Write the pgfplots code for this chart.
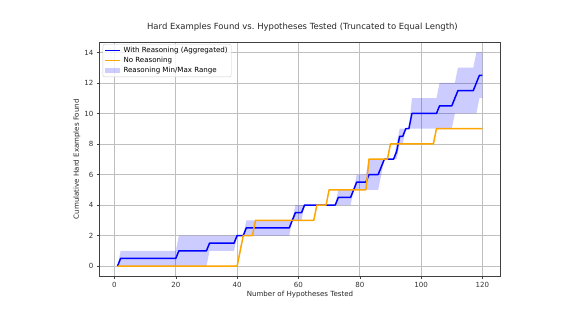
\documentclass[border=0pt]{standalone}
\usepackage{fontspec}
\setmainfont{DejaVu Sans}
\usepackage{pgfplots}
\pgfplotsset{compat=1.18}
\usepgfplotslibrary{fillbetween}

\definecolor{mplorange}{RGB}{255,165,0}
\definecolor{mplblue}{RGB}{0,0,255}

% short line sample for the legend
\pgfplotsset{lineleg/.style={legend image code/.code={%
  \draw[##1, sharp corners] (0bp,0bp) -- (15.5bp,0bp);}}}
% filled box sample for the range band
\pgfplotsset{bandleg/.style={legend image code/.code={%
  \fill[mplblue, fill opacity=0.2, sharp corners, draw=none]
    (0bp,-2.6bp) rectangle (15.5bp,2.6bp);}}}

\begin{document}
\begin{tikzpicture}
\begin{axis}[
  at={(0,0)}, anchor=south west,
  scale only axis, width=401.4bp, height=234.9bp,
  xmin=-4.95, xmax=125.95, ymin=-0.7, ymax=14.7,
  xtick={0,20,...,120}, ytick={0,2,...,14},
  tick align=outside, tick pos=left, major tick length=2.5bp,
  every tick/.style={black!75, line width=0.5bp},
  axis line style={black!75, line width=0.5bp},
  grid=major, major grid style={black!25, line width=0.7bp},
  /pgf/number format/assume math mode=true,
  ticklabel style={font=\fontsize{7.1}{8}\selectfont, text=black!80},
  title={Hard Examples Found vs.\ Hypotheses Tested (Truncated to Equal Length)},
  title style={at={(axis description cs:0.506,1.0375)}, anchor=center,
    font=\fontsize{8.5}{10}\selectfont, text=black!85},
  xlabel={Number of Hypotheses Tested},
  xlabel style={at={(axis description cs:0.5,-0.078)}, anchor=center,
    font=\fontsize{7.1}{8}\selectfont, text=black!85},
  ylabel={Cumulative Hard Examples Found},
  ylabel style={at={(axis description cs:-0.0556,0.5)}, anchor=center,
    font=\fontsize{7.1}{8}\selectfont, text=black!85},
  legend style={at={(axis description cs:0.0085,0.9906)}, anchor=north west,
    draw=black!20, rounded corners=2bp, fill=white, fill opacity=0.8,
    text opacity=1, font=\fontsize{7.1}{8}\selectfont, inner sep=1.2bp,
    row sep=0pt,
    nodes={inner ysep=1.6bp, inner xsep=2.4bp, text height=5.3bp,
      text depth=1.6bp}},
  legend cell align=left,
]

% two reasoning runs: upper and lower envelope
\addplot[name path=upper, draw=none, forget plot] coordinates {
  (1,0) (2,1) (20,1) (21,2) (42,2) (43,3) (58,3) (59,4) (72,4) (73,5)
  (78,5) (79,6) (82,6) (83,7) (91,7) (92,8) (93,9) (96,9) (97,11)
  (105,11) (106,12) (111,12) (112,13) (117,13) (118,14) (120,14)};
\addplot[name path=lower, draw=none, forget plot] coordinates {
  (1,0) (30,0) (31,1) (39,1) (40,2) (57,2) (58,3) (61,3) (62,4) (77,4)
  (78,5) (86,5) (87,6) (88,7) (92,7) (93,8) (94,8) (95,9) (110,9)
  (111,10) (118,10) (119,11) (120,11)};
\addplot[fill=mplblue, fill opacity=0.2, draw=none, forget plot]
  fill between[of=upper and lower];

% aggregated (mean) reasoning curve
\addplot[mplblue, line width=1.5bp, line join=round, lineleg]
  coordinates {
  (1,0) (2,0.5) (20,0.5) (21,1) (30,1) (31,1.5) (39,1.5) (40,2) (42,2)
  (43,2.5) (57,2.5) (58,3) (59,3.5) (61,3.5) (62,4) (72,4) (73,4.5)
  (77,4.5) (78,5) (79,5.5) (82,5.5) (83,6) (86,6) (87,6.5) (88,7)
  (91,7) (92,7.5) (93,8.5) (94,8.5) (95,9) (96,9) (97,10) (105,10)
  (106,10.5) (110,10.5) (111,11) (112,11.5) (117,11.5) (118,12)
  (119,12.5) (120,12.5)};
\addlegendentry{With Reasoning (Aggregated)}

% baseline without reasoning
\addplot[mplorange, line width=1.5bp, line join=round, lineleg]
  coordinates {
  (1,0) (40,0) (41,1) (42,2) (45,2) (46,3) (65,3) (66,4) (69,4) (70,5)
  (82,5) (83,7) (89,7) (90,8) (104,8) (105,9) (120,9)};
\addlegendentry{No Reasoning}

\addlegendimage{bandleg}
\addlegendentry{Reasoning Min/Max Range}
\end{axis}
\pgfresetboundingbox
\path[use as bounding box] (-99.3bp,-41.3bp) rectangle (476.7bp,276.7bp);
\end{tikzpicture}
\end{document}
